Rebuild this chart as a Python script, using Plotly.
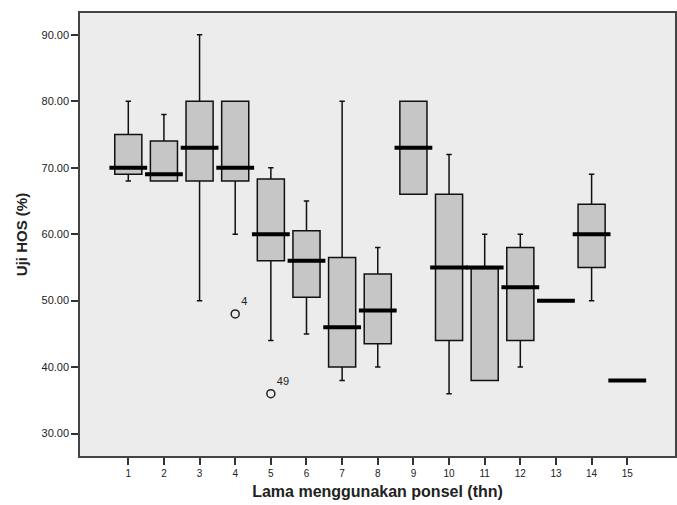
import plotly.graph_objects as go

categories = list(range(1, 16))
q1 =        [69, 68, 68, 68, 56,   50.5, 40,   43.5, 66, 44, 38, 44, 50, 55,   38]
median =    [70, 69, 73, 70, 60,   56,   46,   48.5, 73, 55, 55, 52, 50, 60,   38]
q3 =        [75, 74, 80, 80, 68.3, 60.5, 56.5, 54,   80, 66, 55, 58, 50, 64.5, 38]
lowerfence = [68, 68, 50, 60, 44,  45,   38,   40,   66, 36, 38, 40, 50, 50,   38]
upperfence = [80, 78, 90, 80, 70,  65,   80,   58,   80, 72, 60, 60, 50, 69,   38]

outlier_x = [4, 5]
outlier_y = [48, 36]
outlier_labels = ["4", "49"]

y_ticks = [30, 40, 50, 60, 70, 80, 90]
y_tick_labels = ["30.00", "40.00", "50.00", "60.00", "70.00", "80.00", "90.00"]

fig = go.Figure()

fig.add_trace(go.Box(
    x=categories, q1=q1, median=median, q3=q3,
    lowerfence=lowerfence, upperfence=upperfence,
    width=0.76, whiskerwidth=0.2,
    fillcolor="#c6c6c6",
    line=dict(color="#111111", width=1.5),
    boxpoints=False, showlegend=False, hoverinfo="skip",
))

fig.add_trace(go.Scatter(
    x=categories, y=median, mode="markers",
    marker=dict(symbol="line-ew", size=27, line=dict(color="#000000", width=4)),
    showlegend=False, hoverinfo="skip",
))

fig.add_trace(go.Scatter(
    x=outlier_x, y=outlier_y, mode="markers+text",
    text=outlier_labels, textposition="top right",
    textfont=dict(family="Liberation Sans, Arial", size=11, color="#222222"),
    marker=dict(symbol="circle-open", size=8, color="#222222", line=dict(width=1.5)),
    showlegend=False, hoverinfo="skip",
))

fig.update_layout(
    width=677, height=505,
    margin=dict(l=80, r=2, t=13, b=49),
    paper_bgcolor="white",
    plot_bgcolor="#ececec",
    font=dict(family="Liberation Sans, Arial", color="#222222"),
    xaxis=dict(
        range=[-0.355, 16.34], tickmode="array", tickvals=categories,
        ticktext=[str(c) for c in categories],
        ticks="outside", ticklen=7, tickwidth=1.5, tickcolor="#333333",
        showgrid=False, zeroline=False, automargin=False,
        showline=True, linecolor="#444444", linewidth=1.5, mirror=True,
        tickfont=dict(size=10),
        title=dict(text="<b>Lama menggunakan ponsel (thn)</b>", font=dict(size=16), standoff=8),
    ),
    yaxis=dict(
        range=[26.63, 93.27], tickmode="array", tickvals=y_ticks, ticktext=y_tick_labels,
        ticks="outside", ticklen=7, tickwidth=1.5, tickcolor="#333333",
        showgrid=False, zeroline=False, automargin=False,
        showline=True, linecolor="#444444", linewidth=1.5, mirror=True,
        tickfont=dict(size=11),
        title=dict(text="<b>Uji HOS (%)</b>", font=dict(size=15), standoff=10),
    ),
)

fig.write_html(
    "out.html",
    config={"displayModeBar": False},
    post_script="document.body.style.margin='0';document.body.style.padding='0';document.body.style.overflow='hidden';",
)
